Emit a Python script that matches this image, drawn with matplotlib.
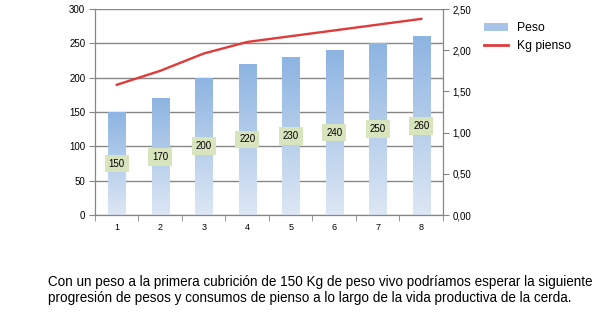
import numpy as np
import matplotlib.pyplot as plt
from matplotlib.colors import LinearSegmentedColormap
from matplotlib.lines import Line2D
from matplotlib.patches import Patch

plt.rcParams['font.family'] = ['Liberation Sans', 'DejaVu Sans']

# ciclo productivo de la cerda
ciclos = ["1", "2", "3", "4", "5", "6", "7", "8"]
peso = [150, 170, 200, 220, 230, 240, 250, 260]
kg_pienso = [1.58, 1.75, 1.96, 2.10, 2.17, 2.24, 2.31, 2.38]

caption = ("Con un peso a la primera cubrición de 150 Kg de peso vivo podríamos esperar la siguiente\n"
           "progresión de pesos y consumos de pienso a lo largo de la vida productiva de la cerda.")

fig = plt.figure(figsize=(6.10, 3.24), dpi=100)
ax = fig.add_axes([0.1557, 0.3364, 0.5705, 0.6358])
ax2 = ax.twinx()

x = np.arange(len(ciclos))
bar_w = 0.40
grad = LinearSegmentedColormap.from_list("peso", ["#dde7f4", "#8db4e2"])
ramp = np.linspace(0, 1, 256).reshape(-1, 1)

bars = ax.bar(x, peso, width=bar_w, color="none", zorder=2)
for b in bars:
    x0, w, h = b.get_x(), b.get_width(), b.get_height()
    im = ax.imshow(ramp, cmap=grad, aspect="auto", origin="lower",
                   extent=[x0, x0 + w, 0, h], zorder=2)
    im.set_clip_path(b)

for xi, v in zip(x, peso):
    ax.text(xi, v / 2, str(v), ha="center", va="center", fontsize=7,
            color="black", zorder=4,
            bbox=dict(boxstyle="square,pad=0.4", fc="#d7e4bd", ec="none"))

ax.set_xlim(-0.5, len(ciclos) - 0.5)
ax.set_ylim(0, 300)
ax.set_yticks(np.arange(0, 301, 50))
ax.yaxis.grid(True, color="#868686", lw=1.0, zorder=0)
ax.set_axisbelow(True)
ax.set_xticks(x)
ax.set_xticklabels(ciclos)
ax.set_xticks(np.arange(-0.5, len(ciclos)), minor=True)
ax.tick_params(axis="x", which="major", length=0, labelsize=6.5, pad=6)
ax.tick_params(axis="x", which="minor", length=4, color="#868686", direction="out")
ax.tick_params(axis="y", labelsize=7, length=4, color="#868686", pad=3)

ax2.plot(x, kg_pienso, color="#e03a3a", lw=1.7, zorder=3)
ax2.set_ylim(0, 2.5)
ax2.set_yticks(np.arange(0, 2.51, 0.5))
ax2.set_yticklabels([f"{v:.2f}".replace(".", ",") for v in np.arange(0, 2.51, 0.5)])
ax2.tick_params(axis="y", labelsize=7, length=4, color="#868686", pad=3)

for a in (ax, ax2):
    a.spines["top"].set_visible(False)
    for s in ("left", "right", "bottom"):
        a.spines[s].set_color("#868686")

handles = [Patch(facecolor="#a9c4e8", edgecolor="none"),
           Line2D([0], [0], color="#e03a3a", lw=2)]
fig.legend(handles, ["Peso", "Kg pienso"], loc="upper left",
           bbox_to_anchor=(0.775, 0.965), frameon=False, fontsize=8.7,
           handlelength=2.0, handleheight=0.6, labelspacing=0.45)

fig.text(0.079, 0.106, caption, ha="left", va="center", fontsize=9.75,
         linespacing=1.2)

fig.savefig("out.png", dpi=100)
